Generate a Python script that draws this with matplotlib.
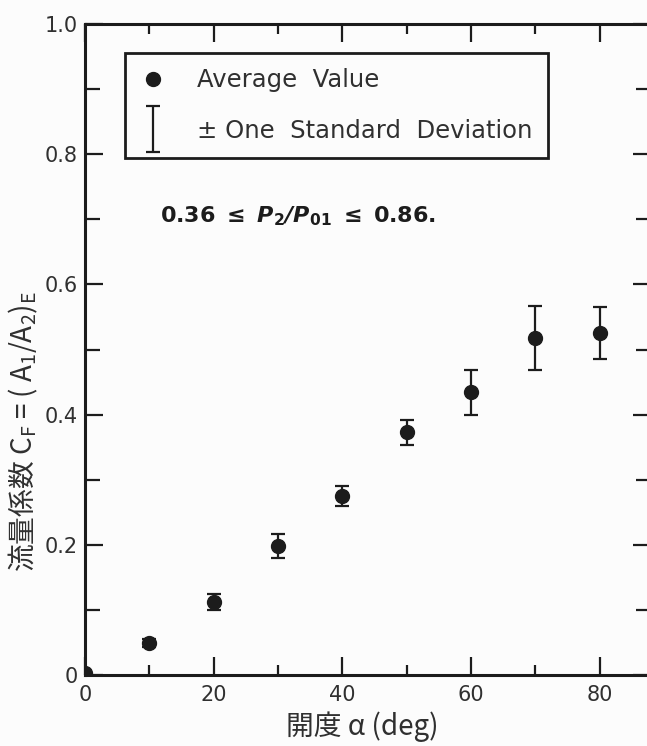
import matplotlib
matplotlib.use("Agg")
import matplotlib.pyplot as plt
from matplotlib.lines import Line2D
from matplotlib.container import ErrorbarContainer
from matplotlib.legend_handler import HandlerErrorbar

# ---- data ----
opening_deg = [0, 10, 20, 30, 40, 50, 60, 70, 80]
cf_mean = [0.003, 0.049, 0.112, 0.198, 0.275, 0.373, 0.434, 0.518, 0.526]
cf_std = [0.0, 0.006, 0.012, 0.018, 0.016, 0.019, 0.035, 0.049, 0.040]

x_ticks = [0, 20, 40, 60, 80]
x_ticklabels = ["0", "20", "40", "60", "80"]
x_minor = [10, 30, 50, 70]
y_ticks = [0, 0.2, 0.4, 0.6, 0.8, 1.0]
y_ticklabels = ["0", "0.2", "0.4", "0.6", "0.8", "1.0"]
y_minor = [0.1, 0.3, 0.5, 0.7, 0.9]

legend_labels = ["Average  Value", "± One  Standard  Deviation"]

ink = "#1c1c1c"
txt = "#303030"
bg = "#fcfcfc"
plt.rcParams["mathtext.default"] = "regular"

W, H = 647, 746
fig = plt.figure(figsize=(W / 100, H / 100), dpi=100, facecolor=bg)
left, right, top, bottom = 85, 651, 24, 675
ax = fig.add_axes([left / W, (H - bottom) / H, (right - left) / W, (bottom - top) / H])
ax.set_facecolor(bg)

eb = ax.errorbar(opening_deg, cf_mean, yerr=cf_std, fmt="o", color=ink,
                 ms=10, capsize=5, elinewidth=1.6, capthick=1.6, zorder=3)

ax.set_xlim(0, 88)
ax.set_ylim(0, 1.0)

ax.set_xticks(x_ticks)
ax.set_xticklabels(x_ticklabels)
ax.set_xticks(x_minor, minor=True)
ax.set_yticks(y_ticks)
ax.set_yticklabels(y_ticklabels)
ax.set_yticks(y_minor, minor=True)

ax.tick_params(axis="both", which="both", direction="in", top=True, right=True,
               width=1.6, color=ink, labelcolor=txt, labelsize=15)
ax.tick_params(axis="x", which="major", length=13, pad=7)
ax.tick_params(axis="x", which="minor", length=7)
ax.tick_params(axis="y", which="major", length=13, pad=5)
ax.tick_params(axis="y", which="minor", length=11)
for s in ax.spines.values():
    s.set_linewidth(2.2)
    s.set_color(ink)

# legend
fs_leg = 17.5
dot_handle = Line2D([], [], marker="o", ls="none", color=ink, ms=10)
bar_handle = ErrorbarContainer((None, eb.lines[1], eb.lines[2]), has_xerr=False, has_yerr=True)
leg = ax.legend([dot_handle, bar_handle], legend_labels,
                handler_map={ErrorbarContainer: HandlerErrorbar(yerr_size=0.95)},
                loc="upper left",
                bbox_to_anchor=((125 - left) / (right - left), (bottom - 53) / (bottom - top)),
                fontsize=fs_leg, frameon=True, fancybox=False, borderpad=0.62,
                labelspacing=1.1, handlelength=1.03, handletextpad=1.33, numpoints=1,
                borderaxespad=0)
leg.get_frame().set_edgecolor(ink)
leg.get_frame().set_linewidth(2.0)
leg.get_frame().set_facecolor(bg)
leg.get_frame().set_alpha(1)
for t in leg.get_texts():
    t.set_color(txt)

ax.text(0.1325, 0.705,
        r"$\mathbf{0.36\ \leq\ }\mathbfit{P}_{\mathbf{2}}\mathbfit{/P}_{\mathbf{01}}\mathbf{\ \leq\ 0.86.}$",
        transform=ax.transAxes, fontsize=16, va="center", ha="left", color=ink)

fig.text(23 / W, 1 - 432 / H, "流量係数 C$_F$ = ( A$_1$/A$_2$)$_E$", rotation=90,
         ha="center", va="center", fontsize=20, color=txt,
         family=["Noto Sans CJK JP"])
fig.text(362 / W, 1 - 727 / H, "開度 α (deg)", ha="center", va="center",
         fontsize=20, color=txt, family=["Noto Sans CJK JP", "DejaVu Sans"])

fig.savefig("out.png", dpi=100, facecolor=fig.get_facecolor())
